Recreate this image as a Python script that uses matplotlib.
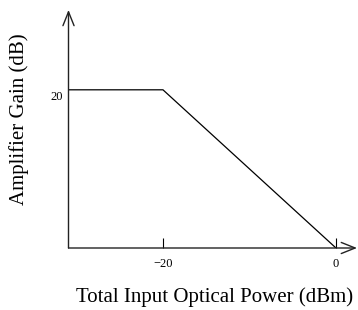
import matplotlib
matplotlib.use('Agg')
import matplotlib.pyplot as plt

# gain curve: flat up to -20 dBm, then falling to 0 dB at 0 dBm
power = [-30.9, -20, 0]
gain = [20, 20, 0]

xticks = [-20, 0]
xticklabels = ['\u221220', '0']
ytick = 20
yticklabel = '20'

plt.rcParams['font.family'] = ['Liberation Serif', 'DejaVu Serif']

fig = plt.figure(figsize=(3.58, 3.10), dpi=100)
ax = fig.add_axes([68.5 / 358, 0.2, (357 - 68.5) / 358, 0.768])

ax.plot(power, gain, color='black', lw=0.9, solid_joinstyle='miter')

xmin, xmax = -30.92, 2.43
ymin, ymax = 0, 30.1
ax.set_xlim(xmin, xmax)
ax.set_ylim(ymin, ymax)

for s in ax.spines.values():
    s.set_visible(False)

# axis arrows
arrow = dict(arrowstyle='->,head_length=0.5,head_width=0.2', lw=1.0,
             color='#222222', mutation_scale=20, shrinkA=0, shrinkB=0)
ax.annotate('', xy=(xmax, 0), xytext=(xmin, 0), arrowprops=arrow,
            annotation_clip=False)
ax.annotate('', xy=(xmin, ymax), xytext=(xmin, 0), arrowprops=arrow,
            annotation_clip=False)

ax.set_xticks(xticks)
ax.set_xticklabels(xticklabels, fontsize=9)
ax.tick_params(axis='x', direction='in', length=7, width=0.8, pad=7)
ax.set_yticks([])

# y tick label sits a little below the level it marks
ax.annotate(yticklabel, xy=(xmin, ytick), xytext=(-6, -7),
            textcoords='offset pixels', ha='right', va='center', fontsize=9,
            annotation_clip=False)

fig.text(215 / 358, 13 / 310, 'Total Input Optical Power (dBm)',
         fontsize=15, ha='center', va='center')
fig.text(19 / 358, 191 / 310, 'Amplifier Gain (dB)', fontsize=15,
         rotation=90, ha='center', va='center')

fig.savefig('out.png', dpi=100)
